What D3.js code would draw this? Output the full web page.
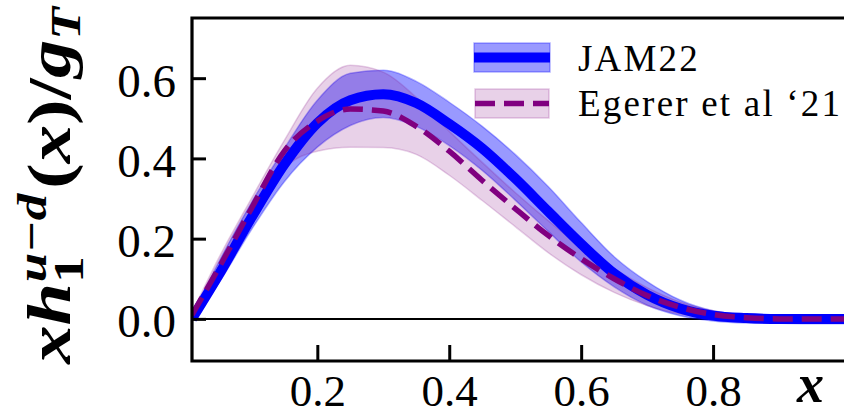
<!DOCTYPE html>
<html>
<head>
<meta charset="utf-8">
<script src="https://cdn.jsdelivr.net/npm/d3@7"></script>
<style>
  html, body { margin: 0; padding: 0; background: #fff; }
  svg { display: block; }
</style>
</head>
<body>
<svg id="chart" width="844" height="417"></svg>
<script>
// ---- data ----
const xs = [0.01, 0.05, 0.10, 0.15, 0.20, 0.25, 0.30, 0.35, 0.40, 0.45, 0.50,
            0.55, 0.60, 0.65, 0.70, 0.75, 0.80, 0.85, 0.90, 0.95, 1.00];
const jamCentral = [0.000, 0.108, 0.252, 0.385, 0.488, 0.545, 0.560, 0.538, 0.486, 0.425, 0.350,
                    0.268, 0.187, 0.113, 0.060, 0.026, 0.008, 0.002, 0.000, 0.000, 0.000];
const jamUpper   = [0.005, 0.140, 0.290, 0.425, 0.545, 0.612, 0.620, 0.592, 0.540, 0.480, 0.410,
                    0.330, 0.240, 0.155, 0.093, 0.047, 0.020, 0.010, 0.007, 0.006, 0.005];
const jamLower   = [-0.005, 0.088, 0.222, 0.342, 0.428, 0.482, 0.502, 0.480, 0.432, 0.370, 0.296,
                    0.218, 0.142, 0.080, 0.034, 0.008, -0.005, -0.010, -0.011, -0.012, -0.012];
const egCentral  = [0.010, 0.125, 0.275, 0.418, 0.493, 0.523, 0.518, 0.480, 0.418, 0.345, 0.275,
                    0.208, 0.150, 0.100, 0.058, 0.029, 0.011, 0.003, 0.000, 0.000, 0.000];
const egUpper    = [0.015, 0.150, 0.300, 0.445, 0.575, 0.632, 0.615, 0.552, 0.468, 0.390, 0.315,
                    0.245, 0.180, 0.125, 0.078, 0.042, 0.020, 0.009, 0.005, 0.004, 0.004];
const egLower    = [0.005, 0.100, 0.245, 0.375, 0.418, 0.428, 0.427, 0.410, 0.358, 0.295, 0.230,
                    0.165, 0.110, 0.066, 0.033, 0.012, 0.002, -0.003, -0.004, -0.004, -0.004];
const xTicks = [0.2, 0.4, 0.6, 0.8];
const yTicks = [0.0, 0.2, 0.4, 0.6];
const legendLabels = ["JAM22", "Egerer et al \u201821"];

// ---- layout ----
const svg = d3.select("#chart");
const L = 192, R = 845, T = 18, B = 361;
const x = d3.scaleLinear().domain([0.01, 1.0]).range([L, R]);
const y = d3.scaleLinear().domain([-0.105, 0.75]).range([B, T]);

const BLUE = "#0000ff", PURPLE = "#800080";
const serif = "'Liberation Serif', 'Times New Roman', serif";

svg.append("defs").append("clipPath").attr("id", "clip")
  .append("rect").attr("x", L).attr("y", T).attr("width", R - L).attr("height", B - T);

const plot = svg.append("g").attr("clip-path", "url(#clip)");

const bandGen = (lo, hi) => d3.area()
  .x((d, i) => x(xs[i])).y0((d, i) => y(lo[i])).y1((d, i) => y(hi[i]))
  .curve(d3.curveMonotoneX)(xs);
const lineGen = (vals) => d3.line()
  .x((d, i) => x(xs[i])).y((d, i) => y(vals[i]))
  .curve(d3.curveMonotoneX)(xs);

// zero line
plot.append("line").attr("x1", L).attr("x2", R).attr("y1", y(0)).attr("y2", y(0))
  .attr("stroke", "#000").attr("stroke-width", 2);

// JAM22 band
plot.append("path").attr("d", bandGen(jamLower, jamUpper))
  .attr("fill", BLUE).attr("fill-opacity", 0.4)
  .attr("stroke", BLUE).attr("stroke-opacity", 0.3).attr("stroke-width", 1.5);
// Egerer band
plot.append("path").attr("d", bandGen(egLower, egUpper))
  .attr("fill", PURPLE).attr("fill-opacity", 0.18)
  .attr("stroke", PURPLE).attr("stroke-opacity", 0.18).attr("stroke-width", 1.5);
// JAM22 central
plot.append("path").attr("d", lineGen(jamCentral))
  .attr("fill", "none").attr("stroke", BLUE).attr("stroke-width", 10);
// Egerer central
plot.append("path").attr("d", lineGen(egCentral))
  .attr("fill", "none").attr("stroke", PURPLE).attr("stroke-width", 5.5)
  .attr("stroke-dasharray", "20,9");

// ---- axes ----
const yAxis = d3.axisLeft(y).tickValues(yTicks).tickSize(-14).tickPadding(0)
  .tickFormat(d3.format(".1f"));
const gy = svg.append("g").attr("transform", `translate(${L},0)`).call(yAxis);
gy.select(".domain").remove();
gy.selectAll(".tick line").attr("stroke", "#000").attr("stroke-width", 3);
gy.selectAll(".tick text").attr("x", -16).attr("dy", "0.38em")
  .attr("font-family", serif).attr("font-size", 47).attr("fill", "#000");

const xAxis = d3.axisBottom(x).tickValues(xTicks).tickSize(-16).tickPadding(0)
  .tickFormat(d3.format(".1f"));
const gx = svg.append("g").attr("transform", `translate(0,${B})`).call(xAxis);
gx.select(".domain").remove();
gx.selectAll(".tick line").attr("stroke", "#000").attr("stroke-width", 3);
gx.selectAll(".tick text").attr("y", 45).attr("dy", 0)
  .attr("font-family", serif).attr("font-size", 45).attr("fill", "#000");

// spines (left, top, bottom)
svg.append("path")
  .attr("d", `M${R},${T} L${L},${T} L${L},${B} L${R},${B}`)
  .attr("fill", "none").attr("stroke", "#000").attr("stroke-width", 3.2);

// ---- axis labels ----
svg.append("text").attr("x", 797).attr("y", 402)
  .attr("font-family", serif).attr("font-style", "italic").attr("font-weight", "bold")
  .attr("font-size", 54).attr("fill", "#000").text("x");

const ylg = svg.append("g");
const yl = ylg.append("text")
  .attr("font-family", serif).attr("font-weight", "bold").attr("font-size", 62).attr("fill", "#000");
yl.append("tspan").attr("font-style", "italic").text("xh");
yl.append("tspan").attr("font-size", 43).attr("dy", 13).text("1");
yl.append("tspan").attr("font-size", 43).attr("font-style", "italic").attr("dx", -21).attr("dy", -37).text("u\u2212d");
yl.append("tspan").attr("dy", 24).attr("dx", 4).text("(");
yl.append("tspan").attr("font-style", "italic").text("x");
yl.append("tspan").text(")/");
yl.append("tspan").attr("font-style", "italic").text("g");
yl.append("tspan").attr("font-style", "italic").attr("font-size", 43).attr("dy", 10).text("T");
const bb = yl.node().getBBox();
const sx = 360 / bb.width;
yl.attr("transform", `translate(${-bb.x * sx},0) scale(${sx},1)`);
ylg.attr("transform", "translate(70,365) rotate(-90)");

// ---- legend ----
const lg = svg.append("g");
// JAM22 handle
lg.append("rect").attr("x", 474).attr("y", 43).attr("width", 76).attr("height", 29)
  .attr("fill", BLUE).attr("fill-opacity", 0.4)
  .attr("stroke", BLUE).attr("stroke-opacity", 0.3).attr("stroke-width", 1.5);
lg.append("line").attr("x1", 474).attr("x2", 550).attr("y1", 57.5).attr("y2", 57.5)
  .attr("stroke", BLUE).attr("stroke-width", 10);
// Egerer handle
lg.append("rect").attr("x", 475).attr("y", 89).attr("width", 74).attr("height", 29)
  .attr("fill", PURPLE).attr("fill-opacity", 0.18)
  .attr("stroke", PURPLE).attr("stroke-opacity", 0.2).attr("stroke-width", 1.5);
lg.append("line").attr("x1", 475).attr("x2", 549).attr("y1", 103.5).attr("y2", 103.5)
  .attr("stroke", PURPLE).attr("stroke-width", 5.5).attr("stroke-dasharray", "20,9");

lg.selectAll("text.leg").data(legendLabels).join("text").attr("class", "leg")
  .attr("x", 578).attr("y", (d, i) => 71 + i * 45)
  .attr("font-family", serif).attr("font-size", 37).attr("letter-spacing", 2.2)
  .attr("fill", "#000").text(d => d);
</script>
</body>
</html>
